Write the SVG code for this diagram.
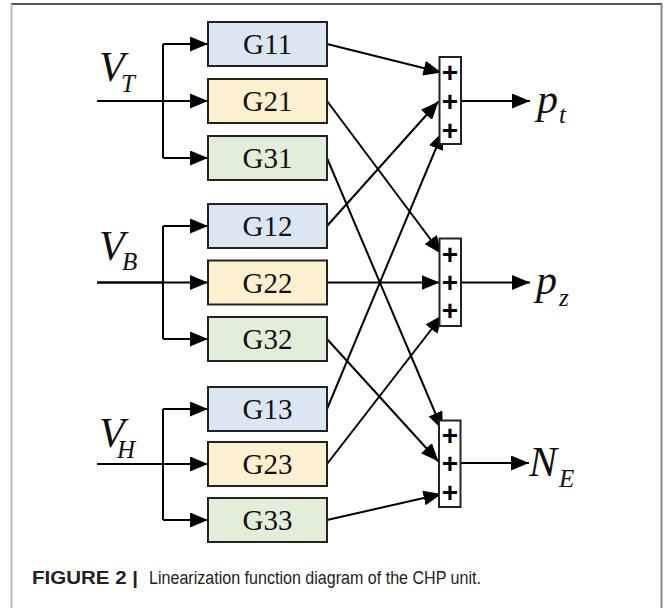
<svg xmlns="http://www.w3.org/2000/svg" width="664" height="608" viewBox="0 0 664 608">
<defs>
<marker id="ah" markerUnits="userSpaceOnUse" markerWidth="18" markerHeight="15" refX="18" refY="7.5" orient="auto">
<path d="M0,0 L18,7.5 L0,15 z" fill="#000"/>
</marker>
<style>
.box{stroke:#222;stroke-width:2}
.b1{fill:#dce6f3}
.b2{fill:#fdf0d0}
.b3{fill:#e2eed9}
.lbl{font-family:"Liberation Serif","Times New Roman",serif;font-size:29px;text-anchor:middle;fill:#111}
.var{font-family:"Liberation Serif","Times New Roman",serif;font-style:italic;fill:#111;font-size:42px}
.sub{font-size:25px}
.ln{stroke:#000;stroke-width:2;fill:none}
.arr{stroke:#000;stroke-width:2;fill:none;marker-end:url(#ah)}
.sum{fill:#fff;stroke:#222;stroke-width:2}
.plus{font-family:"Liberation Sans",Arial,sans-serif;font-weight:bold;font-size:28px;text-anchor:middle;fill:#000}
.cap{font-family:"Liberation Sans",Arial,sans-serif;font-size:18px;fill:#222}
</style>
</defs>
<rect x="0" y="0" width="664" height="608" fill="#fff"/>
<g id="frame">
<line x1="11" y1="4" x2="662" y2="4" stroke="#555" stroke-width="2"/>
<line x1="11.5" y1="4" x2="11.5" y2="608" stroke="#bbb" stroke-width="2"/>
<line x1="661.5" y1="4" x2="661.5" y2="608" stroke="#888" stroke-width="2"/>
</g>
<g id="connectors">
<path class="ln" d="M97,101 H163 M163,44 V158"/>
<path class="arr" d="M97,101 H208"/>
<path class="arr" d="M163,44 H208"/>
<path class="arr" d="M163,158 H208"/>
<path class="ln" d="M97,282.5 H163 M163,226 V339"/>
<path class="arr" d="M97,282.5 H208"/>
<path class="arr" d="M163,226 H208"/>
<path class="arr" d="M163,339 H208"/>
<path class="ln" d="M97,464 H163 M163,409 V520"/>
<path class="arr" d="M97,464 H208"/>
<path class="arr" d="M163,409 H208"/>
<path class="arr" d="M163,520 H208"/>
<path class="arr" d="M327,44 L441.5,72.5"/>
<path class="arr" d="M327,101 L441.5,254"/>
<path class="arr" d="M327,158 L442.5,430"/>
<path class="arr" d="M327,226 L438.5,101.5"/>
<path class="arr" d="M327,282.5 L439.5,282.5"/>
<path class="arr" d="M327,339 L438.5,461.5"/>
<path class="arr" d="M327,409 L443,131.5"/>
<path class="arr" d="M327,464 L442.5,315"/>
<path class="arr" d="M327,520 L441.5,494"/>
<path class="arr" d="M461,101 H530"/>
<path class="arr" d="M461,282.5 H530"/>
<path class="arr" d="M461,463 H529"/>
</g>
<g id="VT"><text class="var" x="99" y="80.5">V<tspan class="sub" x="121" y="92">T</tspan></text></g>
<g id="VB"><text class="var" x="99" y="260">V<tspan class="sub" x="122" y="270">B</tspan></text></g>
<g id="VH"><text class="var" x="99" y="446.5">V<tspan class="sub" x="117" y="458">H</tspan></text></g>
<g id="G11"><rect class="box b1" x="208" y="22" width="119" height="44"/><text class="lbl" x="267.5" y="54">G11</text></g>
<g id="G21"><rect class="box b2" x="208" y="79" width="119" height="44"/><text class="lbl" x="267.5" y="111">G21</text></g>
<g id="G31"><rect class="box b3" x="208" y="136" width="119" height="44"/><text class="lbl" x="267.5" y="168">G31</text></g>
<g id="G12"><rect class="box b1" x="208" y="204" width="119" height="44"/><text class="lbl" x="267.5" y="236">G12</text></g>
<g id="G22"><rect class="box b2" x="208" y="260.5" width="119" height="44"/><text class="lbl" x="267.5" y="292.5">G22</text></g>
<g id="G32"><rect class="box b3" x="208" y="317" width="119" height="44"/><text class="lbl" x="267.5" y="349">G32</text></g>
<g id="G13"><rect class="box b1" x="208" y="387" width="119" height="44"/><text class="lbl" x="267.5" y="419">G13</text></g>
<g id="G23"><rect class="box b2" x="208" y="442" width="119" height="44"/><text class="lbl" x="267.5" y="474">G23</text></g>
<g id="G33"><rect class="box b3" x="208" y="498" width="119" height="44"/><text class="lbl" x="267.5" y="530">G33</text></g>
<g id="S1"><rect class="sum" x="439.5" y="57" width="21.5" height="87"/>
<text class="plus" x="450" y="82">+</text><text class="plus" x="450" y="110.5">+</text><text class="plus" x="450" y="139.5">+</text></g>
<g id="S2"><rect class="sum" x="439.5" y="238.5" width="21.5" height="87.5"/>
<text class="plus" x="450" y="264">+</text><text class="plus" x="450" y="292">+</text><text class="plus" x="450" y="320">+</text></g>
<g id="S3"><rect class="sum" x="439" y="420.5" width="21.5" height="86.5"/>
<text class="plus" x="450" y="444.5">+</text><text class="plus" x="450" y="473">+</text><text class="plus" x="450" y="502">+</text></g>
<g id="pt"><text class="var" x="537" y="112.5">p<tspan class="sub" x="559" y="123">t</tspan></text></g>
<g id="pz"><text class="var" x="536" y="294">p<tspan class="sub" x="559" y="306">z</tspan></text></g>
<g id="NE"><text class="var" x="529" y="476">N<tspan class="sub" x="559" y="487">E</tspan></text></g>
<g id="caption">
<text class="cap" x="32" y="584" font-weight="bold" textLength="106" lengthAdjust="spacingAndGlyphs">FIGURE 2 |</text>
<text class="cap" x="149" y="584" textLength="332" lengthAdjust="spacingAndGlyphs">Linearization function diagram of the CHP unit.</text>
</g>
</svg>
